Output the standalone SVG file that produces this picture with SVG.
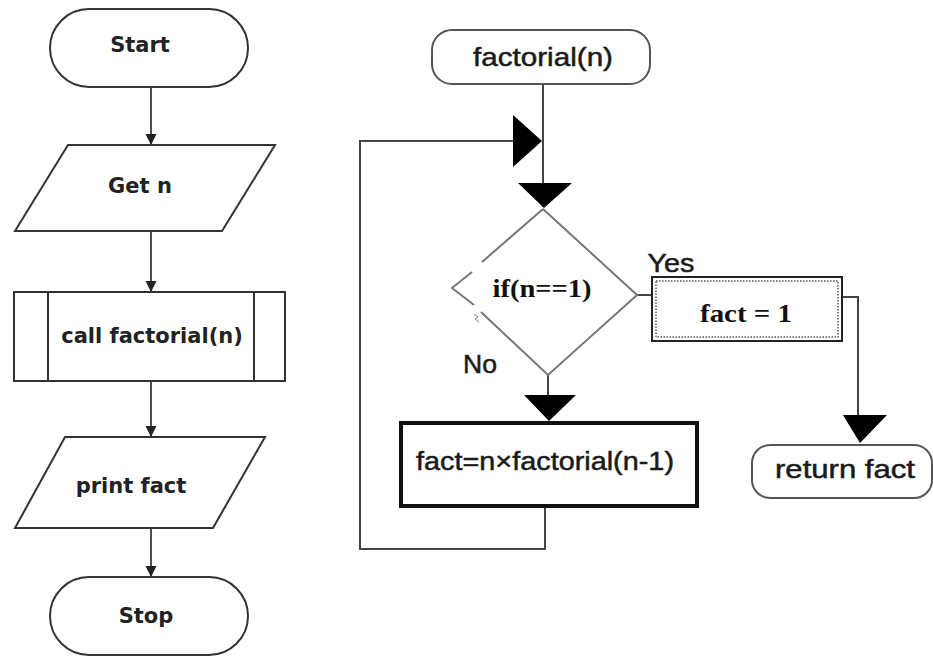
<svg xmlns="http://www.w3.org/2000/svg" width="933" height="657" viewBox="0 0 933 657">
<style>
.bg{fill:#fff}
.ls{fill:#fff;stroke:#333;stroke-width:2}
.lt{font-family:"DejaVu Sans",sans-serif;font-weight:bold;font-size:21px;fill:#222;text-anchor:middle}
.cn{fill:none;stroke:#222;stroke-width:1.6}
.rc{fill:none;stroke:#444;stroke-width:2}
.at{font-family:"Liberation Sans",Arial,sans-serif;font-size:26px;fill:#1a1a1a;stroke:#1a1a1a;stroke-width:0.5;text-anchor:middle}
.tt{font-family:"Liberation Serif","Times New Roman",serif;font-weight:bold;font-size:26px;fill:#111;text-anchor:middle}
.tri{fill:#000}
.dm{fill:none;stroke:#777;stroke-width:2}
</style>
<defs>
<marker id="ah" markerWidth="12" markerHeight="12" refX="11" refY="6" orient="auto" markerUnits="userSpaceOnUse">
<path d="M0,0.5 L11,6 L0,11.5 Z" fill="#222"/>
</marker>
</defs>
<rect class="bg" x="0" y="0" width="933" height="657"/>

<g id="connectors">
<line class="cn" x1="151" y1="87" x2="151" y2="145" marker-end="url(#ah)"/>
<line class="cn" x1="151" y1="231" x2="151" y2="292" marker-end="url(#ah)"/>
<line class="cn" x1="151" y1="381" x2="151" y2="437" marker-end="url(#ah)"/>
<line class="cn" x1="151" y1="528" x2="151" y2="577" marker-end="url(#ah)"/>

<polyline class="rc" points="543,84 543,207"/>
<polygon class="tri" points="513,115 542,141 513,167"/>
<polygon class="tri" points="518,183 572,183 544,208"/>
<polyline class="rc" points="545,507 545,549 360,549 360,141 513,141"/>
<polyline class="rc" points="548,375 548,396"/>
<polygon class="tri" points="524,395 576,395 549,421"/>
<line class="rc" x1="637" y1="295" x2="652" y2="295"/>
<polyline class="rc" points="842,297 858,297 858,416"/>
<polygon class="tri" points="843,415 887,415 860,443"/>
</g>

<g id="start">
<rect class="ls" x="50" y="9" width="198" height="78" rx="39"/>
<text class="lt" x="140" y="52">Start</text>
</g>
<g id="get-n">
<polygon class="ls" points="68,145 275,145 222,231 15,231"/>
<text class="lt" x="140" y="193">Get n</text>
</g>
<g id="call-factorial">
<rect class="ls" x="14" y="292" width="271" height="89"/>
<line class="ls" x1="48" y1="292" x2="48" y2="381"/>
<line class="ls" x1="254" y1="292" x2="254" y2="381"/>
<text class="lt" x="152" y="343">call factorial(n)</text>
</g>
<g id="print-fact">
<polygon class="ls" points="65,437 265,437 213,528 15,528"/>
<text class="lt" x="131" y="493">print fact</text>
</g>
<g id="stop">
<rect class="ls" x="50" y="577" width="198" height="78" rx="39"/>
<text class="lt" x="146" y="623">Stop</text>
</g>

<g id="factorial-n">
<rect x="432" y="30" width="218" height="54" rx="20" fill="#fff" stroke="#555" stroke-width="2"/>
<text class="at" x="543" y="66" textLength="140" lengthAdjust="spacingAndGlyphs">factorial(n)</text>
</g>

<g id="decision">
<path class="dm" d="M543,209 L637,295 L548,375 L481,312 M474,305 L452,288 L472,272 M482,262 L543,209"/>
<path d="M474,314 l4,3 l-3,2 l4,3" fill="none" stroke="#888" stroke-width="1"/>
<text class="tt" x="542" y="297" textLength="99" lengthAdjust="spacingAndGlyphs">if(n==1)</text>
</g>

<g id="label-yes">
<text class="at" x="671" y="272" font-size="24" textLength="47" lengthAdjust="spacingAndGlyphs">Yes</text>
</g>
<g id="label-no">
<text class="at" x="480" y="373" font-size="24" textLength="34" lengthAdjust="spacingAndGlyphs">No</text>
</g>

<g id="fact-1">
<rect x="652" y="277" width="190" height="64" fill="#fff" stroke="#222" stroke-width="2"/>
<rect x="656" y="281" width="182" height="56" fill="none" stroke="#555" stroke-width="1.5" stroke-dasharray="1.5,1.5"/>
<text class="tt" x="746" y="322" font-size="28" textLength="92" lengthAdjust="spacingAndGlyphs">fact = 1</text>
</g>

<g id="fact-recursive">
<rect x="401" y="423" width="296" height="83" fill="#fff" stroke="#111" stroke-width="4"/>
<text class="at" x="545" y="470" textLength="258" lengthAdjust="spacingAndGlyphs">fact=n×factorial(n-1)</text>
</g>

<g id="return-fact">
<rect x="752" y="445" width="180" height="53" rx="18" fill="#fff" stroke="#555" stroke-width="2"/>
<text class="at" x="845" y="478" textLength="140" lengthAdjust="spacingAndGlyphs">return fact</text>
</g>
</svg>
